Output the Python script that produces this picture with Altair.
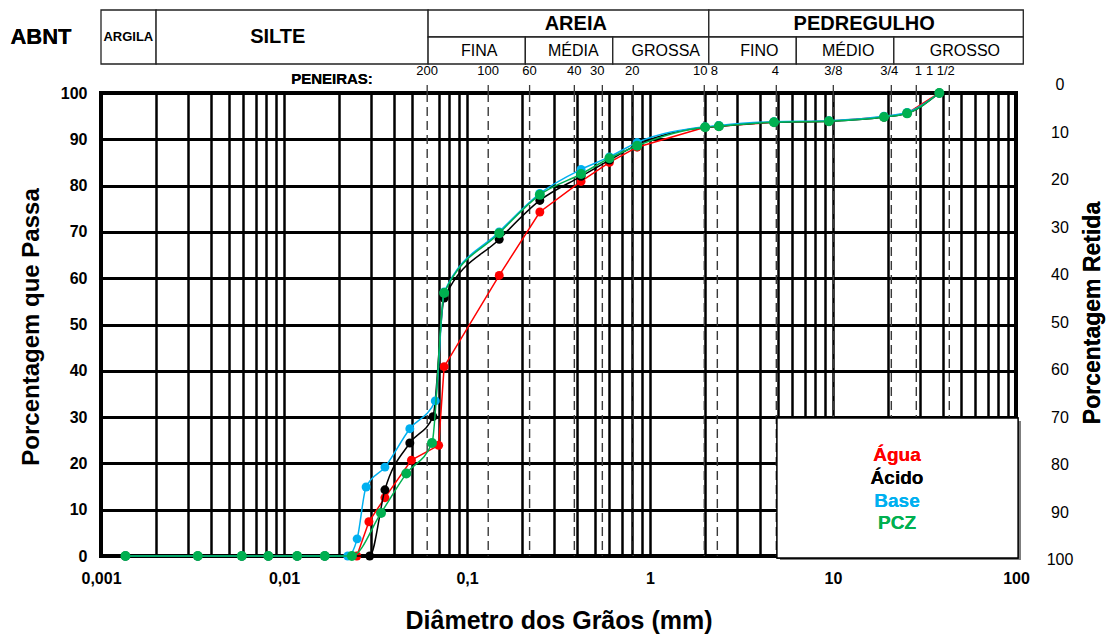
import altair as alt
import pandas as pd

FONT = "Liberation Sans"

# ---------------- data ----------------
# grain diameter (mm) and percentage passing, one pair of lists per series
agua_d = [0.00136, 0.00338, 0.00588, 0.00821, 0.0118, 0.0167, 0.0250, 0.0291, 0.0356, 0.0497,
          0.0700, 0.075, 0.15, 0.25, 0.42, 0.6, 0.85, 2.0, 2.38, 4.76, 9.5, 19.0, 25.4, 38.1]
agua_p = [0, 0, 0, 0, 0, 0, 0, 7.4, 12.6, 20.7,
          23.9, 40.9, 60.6, 74.3, 80.9, 85.0, 88.3, 92.6, 92.8, 93.7, 93.9, 94.8, 95.6, 100]

acido_d = [0.00136, 0.00338, 0.00588, 0.00821, 0.0118, 0.0167, 0.0294, 0.0356, 0.0487, 0.0652,
           0.075, 0.15, 0.25, 0.42, 0.6, 0.85, 2.0, 2.38, 4.76, 9.5, 19.0, 25.4, 38.1]
acido_p = [0, 0, 0, 0, 0, 0, 0, 14.3, 24.4, 30.1,
           55.7, 68.4, 76.8, 82.0, 85.5, 88.8, 92.6, 92.8, 93.7, 93.9, 94.8, 95.6, 100]

base_d = [0.00136, 0.00338, 0.00588, 0.00821, 0.0118, 0.0167, 0.0223, 0.0251, 0.0281, 0.0356,
          0.0487, 0.0671, 0.075, 0.15, 0.25, 0.42, 0.6, 0.85, 2.0, 2.38, 4.76, 9.5, 19.0, 25.4, 38.1]
base_p = [0, 0, 0, 0, 0, 0, 0, 3.7, 14.9, 19.2,
          27.5, 33.5, 57.0, 70.0, 78.3, 83.5, 86.2, 89.3, 92.7, 93.0, 93.8, 94.0, 95.0, 95.8, 100]

pcz_d = [0.00136, 0.00338, 0.00588, 0.00821, 0.0118, 0.0167, 0.0235, 0.0339, 0.0466, 0.0644,
         0.075, 0.15, 0.25, 0.42, 0.6, 0.85, 2.0, 2.38, 4.76, 9.5, 19.0, 25.4, 38.1]
pcz_p = [0, 0, 0, 0, 0, 0, 0, 9.3, 17.8, 24.4,
         56.8, 69.7, 78.0, 82.5, 85.9, 88.6, 92.6, 92.8, 93.7, 93.9, 94.8, 95.6, 100]

series_names = ["Água", "Ácido", "Base", "PCZ"]
series_colors = ["#FF0000", "#000000", "#00B0F0", "#00B050"]
series_d = [agua_d, acido_d, base_d, pcz_d]
series_p = [agua_p, acido_p, base_p, pcz_p]
series_interp = ["linear", "monotone", "monotone", "monotone"]
marker_sizes = [80, 80, 80, 100]

# sieves (peneiras): tick position and label position in mm
sieve_labels = ["200", "100", "60", "40", "30", "20", "10", "8", "4", "3/8", "3/4", "1", "1 1/2"]
sieve_tick_d = [0.0606, 0.1306, 0.2198, 0.386, 0.549, 0.810, 1.98, 2.333, 4.90, 10.04, 20.83, 28.52, 43.2]
sieve_label_d = [0.0606, 0.1306, 0.2198, 0.386, 0.515, 0.800, 1.883, 2.246, 4.84, 10.04, 20.3, 29.25, 38.6]

# ABNT classification header (limits in mm)
span_labels = ["ARGILA", "SILTE"]
span_lo = [0.001, 0.002]
span_hi = [0.002, 0.0613]
span_center = [0.00141, 0.00925]
span_size = [13, 20]

group_labels = ["AREIA", "PEDREGULHO"]
group_lo = [0.0613, 2.096]
group_hi = [2.096, 109.6]
group_center = [0.393, 14.8]

sub_labels = ["FINA", "MÉDIA", "GROSSA", "FINO", "MÉDIO", "GROSSO"]
sub_lo = [0.0613, 0.2083, 0.626, 2.096, 6.30, 21.5]
sub_hi = [0.2083, 0.626, 2.096, 6.30, 21.5, 109.6]
sub_center = [0.1166, 0.381, 1.22, 3.96, 12.1, 52.6]

# axis ticks
x_label_values = ["0.001", "0.01", "0.1", "1", "10", "100"]
y_values = [0, 10, 20, 30, 40, 50, 60, 70, 80, 90, 100]
retida_values = [0, 10, 20, 30, 40, 50, 60, 70, 80, 90, 100]

# ---------------- geometry ----------------
W, H = 915, 463
PAD_L, PAD_T = 101, 93

grid_x = []
for k in range(-3, 2):
    for m in range(1, 10):
        v = round(m * 10.0 ** k, 6)
        if abs(v - 0.06) > 1e-9:
            grid_x.append(v)
grid_x.append(100.0)

xs = alt.Scale(type="log", domain=[0.001, 100], nice=False)
ys = alt.Scale(domain=[0, 100], nice=False, zero=False)

label_expr = ("indexof(" + str(x_label_values) + ", toString(datum.value)) >= 0 ? "
              "replace(toString(datum.value), '.', ',') : ''")

x_axis = alt.Axis(values=grid_x, grid=True, gridColor="black", gridWidth=2.5, gridOpacity=1,
                  domain=False, ticks=False, labelExpr=label_expr, labelFont=FONT,
                  labelFontSize=16, labelFontWeight="bold", labelColor="black",
                  labelPadding=22, labelBaseline="middle", labelFlush=False, labelOverlap=False,
                  title="Diâmetro dos Grãos (mm)", titleFont=FONT, titleFontSize=25,
                  titleFontWeight="bold", titleColor="black", titleX=W / 2, titleY=64,
                  titleAlign="center", titleBaseline="middle")
y_axis = alt.Axis(values=y_values, grid=True, gridColor="black", gridWidth=3, gridOpacity=1,
                  domain=False, ticks=False, labelFont=FONT, labelFontSize=16,
                  labelFontWeight="bold", labelColor="black", labelPadding=14,
                  labelBaseline="middle", labelOverlap=False,
                  title="Porcentagem que Passa", titleFont=FONT, titleFontSize=24,
                  titleFontWeight="bold", titleColor="black", titleX=-70, titleY=H / 2 + 2,
                  titleAngle=270, titleAlign="center", titleBaseline="middle")


def X(field):
    return alt.X(field, scale=xs, axis=x_axis)


def Y(field):
    return alt.Y(field, scale=ys, axis=y_axis)


layers = []

# base layer carrying the axes and grid (invisible points)
axis_df = pd.DataFrame({"d": [0.001, 100], "p": [0, 100]})
layers.append(alt.Chart(axis_df).mark_point(opacity=0).encode(x=X("d:Q"), y=Y("p:Q")))

# sieve dashed lines and ticks
sieve_df = pd.DataFrame({"d": sieve_tick_d})
layers.append(alt.Chart(sieve_df).mark_rule(color="#3a3a3a", strokeWidth=1.4, strokeDash=[9, 5]).encode(
    x=X("d:Q"), y=alt.value(0), y2=alt.value(H)))
layers.append(alt.Chart(sieve_df).mark_rule(color="#3a3a3a", strokeWidth=1.3).encode(
    x=X("d:Q"), y=alt.value(-8), y2=alt.value(0)))
sieve_lab_df = pd.DataFrame({"d": sieve_label_d, "t": sieve_labels})
layers.append(alt.Chart(sieve_lab_df).mark_text(font=FONT, fontSize=13, color="black",
                                                baseline="middle", align="center").encode(
    x=X("d:Q"), y=alt.value(-22), text="t:N"))
layers.append(alt.Chart(axis_df).mark_text(font=FONT, fontSize=15, fontWeight="bold", color="black",
                                           baseline="middle", align="center", text="PENEIRAS:").encode(
    x=alt.value(231), y=alt.value(-14)))

# header table
span_df = pd.DataFrame({"lo": span_lo, "hi": span_hi, "c": span_center, "t": span_labels, "s": span_size})
group_df = pd.DataFrame({"lo": group_lo, "hi": group_hi, "c": group_center, "t": group_labels})
sub_df = pd.DataFrame({"lo": sub_lo, "hi": sub_hi, "c": sub_center, "t": sub_labels})
TOP, MID, BOT = -83, -56, -29
for df, y0, y1 in [(span_df, TOP, BOT), (group_df, TOP, MID), (sub_df, MID, BOT)]:
    layers.append(alt.Chart(df).mark_rect(fill="white", stroke="#222222", strokeWidth=1.3).encode(
        x=X("lo:Q"), x2="hi:Q", y=alt.value(y0), y2=alt.value(y1)))
layers.append(alt.Chart(span_df).mark_text(font=FONT, fontWeight="bold", color="black",
                                           baseline="middle", align="center").encode(
    x=X("c:Q"), y=alt.value((TOP + BOT) / 2), text="t:N",
    size=alt.Size("s:Q", scale=None, legend=None)))
layers.append(alt.Chart(group_df).mark_text(font=FONT, fontSize=20, fontWeight="bold", color="black",
                                            baseline="middle", align="center").encode(
    x=X("c:Q"), y=alt.value((TOP + MID) / 2), text="t:N"))
layers.append(alt.Chart(sub_df).mark_text(font=FONT, fontSize=16, color="black",
                                          baseline="middle", align="center").encode(
    x=X("c:Q"), y=alt.value((MID + BOT) / 2), text="t:N"))
layers.append(alt.Chart(axis_df).mark_text(font=FONT, fontSize=22, fontWeight="bold", color="black",
                                           baseline="middle", align="center", text="ABNT").encode(
    x=alt.value(-60), y=alt.value((TOP + BOT) / 2)))

# right axis: Porcentagem Retida
ret_df = pd.DataFrame({"r": retida_values})
layers.append(alt.Chart(ret_df).transform_calculate(pos="101.62 - 1.0259 * datum.r").mark_text(
    font=FONT, fontSize=16, color="black", baseline="middle", align="center").encode(
    x=alt.value(959), y=Y("pos:Q"), text="r:Q"))
layers.append(alt.Chart(axis_df).mark_text(font=FONT, fontSize=23, fontWeight="bold", color="black",
                                           baseline="middle", align="center", angle=270,
                                           text="Porcentagem Retida").encode(
    x=alt.value(992), y=alt.value(220)))

# legend box
layers.append(alt.Chart(axis_df).mark_rect(fill="#7f7f7f").encode(
    x=alt.value(679), x2=alt.value(920), y=alt.value(328), y2=alt.value(467)))
layers.append(alt.Chart(axis_df).mark_rect(fill="white", stroke="black", strokeWidth=1.3).encode(
    x=alt.value(676), x2=alt.value(917), y=alt.value(325), y2=alt.value(465)))
for i, (name, col) in enumerate(zip(series_names, series_colors)):
    layers.append(alt.Chart(axis_df).mark_text(font=FONT, fontSize=19, fontWeight="bold", color=col,
                                               baseline="middle", align="center", text=name).encode(
        x=alt.value(796), y=alt.value(362 + 22.8 * i)))

# series
for name, col, d, p, ms, itp in zip(series_names, series_colors, series_d, series_p,
                                    marker_sizes, series_interp):
    df = pd.DataFrame({"d": d, "p": p})
    base = alt.Chart(df)
    layers.append(base.mark_line(color=col, strokeWidth=1.5, interpolate=itp).encode(
        x=X("d:Q"), y=Y("p:Q")))
    layers.append(base.mark_point(filled=True, shape="circle", size=ms, color=col, opacity=1).encode(
        x=X("d:Q"), y=Y("p:Q")))

chart = alt.layer(*layers).properties(
    width=W, height=H,
    padding={"left": PAD_L, "top": PAD_T, "right": 1109 - PAD_L - W, "bottom": 637 - PAD_T - H},
    autosize=alt.AutoSizeParams(type="none"),
    background="white",
).configure_view(stroke="black", strokeWidth=4)

chart.save("out.html", embed_options={"renderer": "svg", "actions": False})
